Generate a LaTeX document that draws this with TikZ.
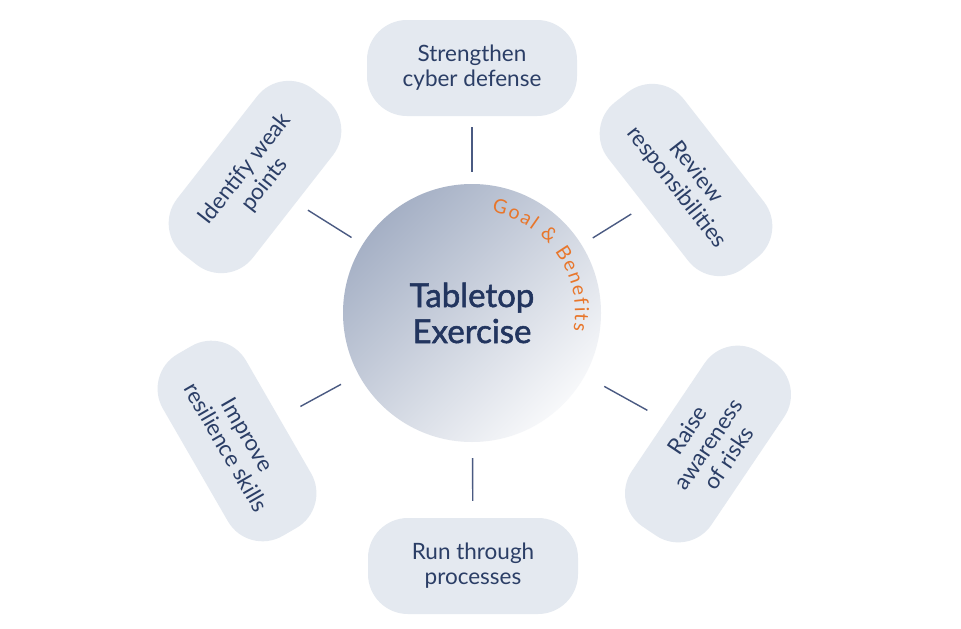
\documentclass[tikz,border=0pt]{standalone}
\usepackage{fontspec}
\setmainfont{Lato}
\newfontfamily\titlefont{Lato}[FakeBold=1.6]
\usetikzlibrary{decorations.text}
\definecolor{pillfill}{HTML}{E4E9F0}
\definecolor{pilltext}{HTML}{2B3E66}
\definecolor{titlec}{HTML}{22355F}
\definecolor{orangec}{HTML}{E8762B}
\definecolor{linec}{HTML}{4A5A82}
\definecolor{circdark}{HTML}{A5B0C5}
\definecolor{circlight}{HTML}{F7F8FA}
\begin{document}
\begin{tikzpicture}[x=1pt,y=1pt,
  pill/.style={fill=pillfill, rounded corners=40pt, minimum width=210pt, minimum height=96pt,
    align=center, text=pilltext, font=\fontsize{22.5}{25}\selectfont, inner sep=0pt},
  conn/.style={draw=linec, line width=1.4pt}]
\useasboundingbox (0,0) rectangle (961,-629);
\fill[white] (0,0) rectangle (961,-629);
\node[circle, minimum size=258pt, inner sep=0pt, top color=circdark, bottom color=circlight,
  shading angle=45, text=titlec, align=center, font=\titlefont\fontsize{33}{36}\selectfont] (c) at (472,-313) {Tabletop\\Exercise};
\path[decorate, decoration={text along path, text color=orangec, text align=fit to path,
  text={|\fontsize{19.5}{19.5}\selectfont|Goal {\&} Benefits}}]
  (472,-313) ++(79:103) arc[start angle=79, end angle=-10, radius=103];
\node[pill] (p1) at (472,-68) {Strengthen\\cyber defense};
\node[pill, rotate=-52] (p2) at (686,-180) {Review\\responsibilities};
\node[pill, rotate=56] (p3) at (708,-444) {Raise\\awareness\\of risks};
\node[pill] (p4) at (473,-566) {Run through\\processes};
\node[pill, rotate=-60] (p5) at (237,-441) {Improve\\resilience skills};
\node[pill, rotate=52] (p6) at (255,-177) {Identify weak\\points};
\draw[conn, shorten <=12pt, shorten >=11pt] (c) -- (p1);
\draw[conn, shorten <=13pt, shorten >=16pt] (c) -- (p2);
\draw[conn, shorten <=22pt, shorten >=21pt] (c) -- (p3);
\draw[conn, shorten <=16pt, shorten >=17pt] (c) -- (p4);
\draw[conn, shorten <=20pt, shorten >=24pt] (c) -- (p5);
\draw[conn, shorten <=13pt, shorten >=14pt] (c) -- (p6);
\end{tikzpicture}
\end{document}
